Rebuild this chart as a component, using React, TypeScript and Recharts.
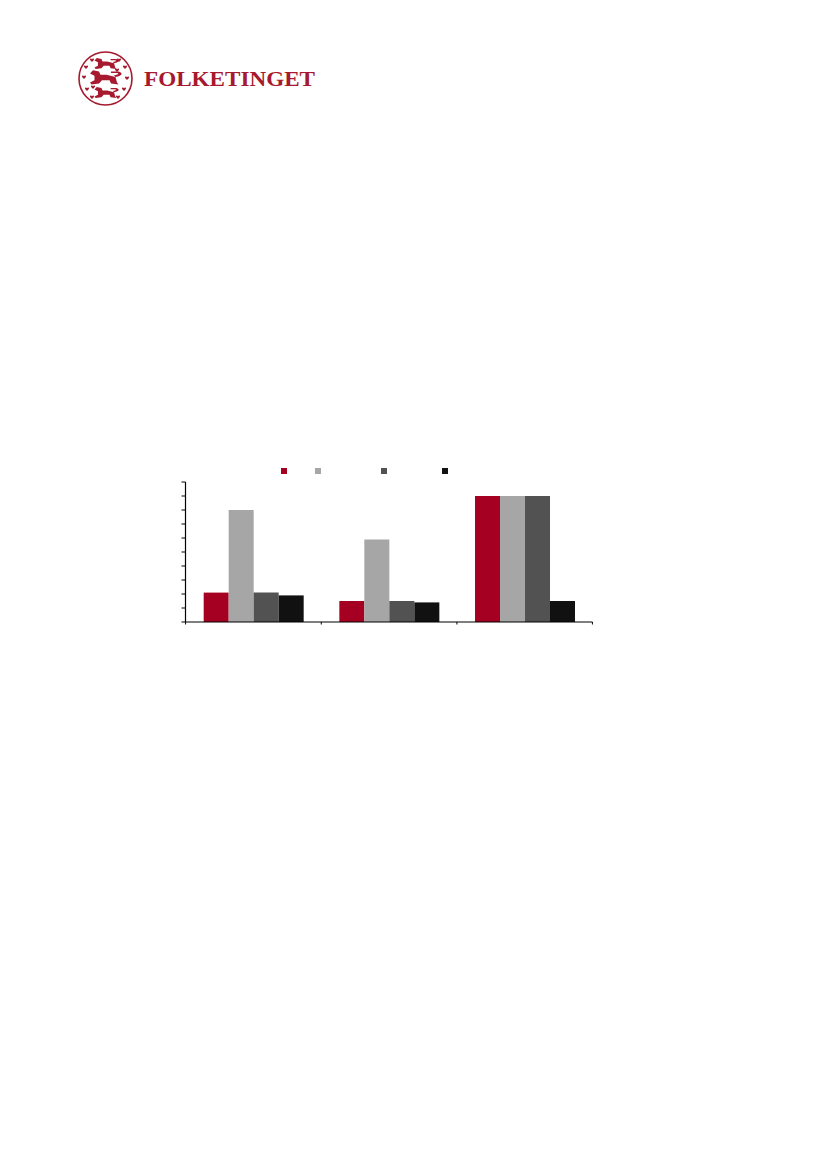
import React from 'react';
import { BarChart, Bar, XAxis, YAxis, Legend } from 'recharts';

// the text in the reference chart is not visible, so categories and series names are placeholders
const categories = ['A', 'B', 'C'];
const series1 = [2.1, 1.5, 9];
const series2 = [8, 5.9, 9];
const series3 = [2.1, 1.5, 9];
const series4 = [1.9, 1.4, 1.5];
const yTicks = [0, 1, 2, 3, 4, 5, 6, 7, 8, 9, 10];

const seriesNames = ['s1', 's2', 's3', 's4'];
const seriesColors = ['#A50021', '#A6A6A6', '#525252', '#111111'];
const legendGaps = [0, 28, 60, 55];

const data = categories.map((name, i) => ({
  name,
  s1: series1[i],
  s2: series2[i],
  s3: series3[i],
  s4: series4[i],
}));

const BAND = 135.5;
const RED = '#A6192E';

const CategoryTick = (props: any) => {
  const { x, y, index } = props;
  return (
    <g stroke="#000" strokeWidth={1}>
      <line x1={x - BAND / 2} x2={x - BAND / 2} y1={y} y2={y + 2.5} />
      {index === categories.length - 1 && <line x1={x + BAND / 2} x2={x + BAND / 2} y1={y} y2={y + 2.5} />}
    </g>
  );
};

const ValueTick = (props: any) => {
  const { x, y } = props;
  return <line x1={x - 4} x2={x} y1={y} y2={y} stroke="#000" strokeWidth={1} />;
};

const LegendMarkers = () => (
  <div style={{ display: 'flex' }}>
    {seriesColors.map((c, i) => (
      <div key={c} style={{ width: 6, height: 6, background: c, marginLeft: legendGaps[i] }} />
    ))}
  </div>
);

const Lion = ({ x, y, sx, sy }: { x: number; y: number; sx: number; sy: number }) => (
  <g transform={`translate(${x} ${y}) scale(${-sx} ${sy})`} fill={RED} stroke="none">
    <path d="M-8 4 L-7 -1 L-1 -3 L3 -3 L4 -6 L8 -7 L10 -4 L7 -2 L7 2 L10 4 L9 6 L4 5 L2 2 L-3 2 L-4 5 L-9 6 Z" />
    <path d="M-7 -1 C-12 -2 -12 -5 -9 -6 L-4 -6 L-4 -4.5 L-8 -4.5 C-9.5 -4 -9 -3 -6 -2.5 Z" />
  </g>
);

const Heart = ({ x, y }: { x: number; y: number }) => (
  <path
    transform={`translate(${x} ${y}) scale(1.2)`}
    d="M0 1.6 L-1.6 0 C-2 -1.2 -0.5 -1.6 0 -0.6 C0.5 -1.6 2 -1.2 1.6 0 Z"
    fill={RED}
  />
);

const hearts = [
  [92, 60], [119, 60], [86, 67], [125, 67], [84, 77], [127, 78],
  [87, 89], [124, 89], [92, 97], [118, 97], [117, 70], [93, 87],
];

const Logo = () => (
  <svg width={330} height={115} style={{ position: 'absolute', left: 0, top: 0 }}>
    <circle cx={105.5} cy={78.5} r={26.5} fill="none" stroke={RED} strokeWidth={1.6} />
    <Lion x={106} y={64} sx={1.15} sy={0.85} />
    <Lion x={105} y={78} sx={1.5} sy={1.1} />
    <Lion x={106} y={93} sx={1.15} sy={0.85} />
    {hearts.map(([x, y]) => (
      <Heart key={`${x}-${y}`} x={x} y={y} />
    ))}
    <text
      x={144}
      y={86}
      fontFamily="Liberation Serif"
      fontWeight="bold"
      fontSize={21.5}
      fill={RED}
      textLength={171}
      lengthAdjust="spacingAndGlyphs"
    >
      FOLKETINGET
    </text>
  </svg>
);

export default function App() {
  return (
    <div style={{ position: 'absolute', left: 0, top: 0, width: 827, height: 1169, background: '#fff' }}>
      <Logo />
      <BarChart
        width={827}
        height={660}
        data={data}
        margin={{ top: 482, right: 234.5, left: 184.5, bottom: 31 }}
        barCategoryGap="13.4%"
        barGap={0}
        style={{ position: 'absolute', left: 0, top: 0 }}
      >
        <XAxis
          dataKey="name"
          height={1}
          tick={<CategoryTick />}
          tickLine={false}
          tickSize={0}
          tickMargin={0}
          axisLine={{ stroke: '#000', strokeWidth: 1.2 }}
          interval={0}
        />
        <YAxis
          width={1}
          domain={[0, 10]}
          ticks={yTicks}
          interval={0}
          tick={<ValueTick />}
          tickLine={false}
          tickSize={0}
          tickMargin={0}
          axisLine={{ stroke: '#000', strokeWidth: 1.2 }}
        />
        <Legend
          content={<LegendMarkers />}
          wrapperStyle={{ position: 'absolute', left: 281, top: 468, width: 200, height: 6 }}
        />
        {seriesNames.map((key, i) => (
          <Bar key={key} dataKey={key} fill={seriesColors[i]} isAnimationActive={false} />
        ))}
      </BarChart>
    </div>
  );
}
